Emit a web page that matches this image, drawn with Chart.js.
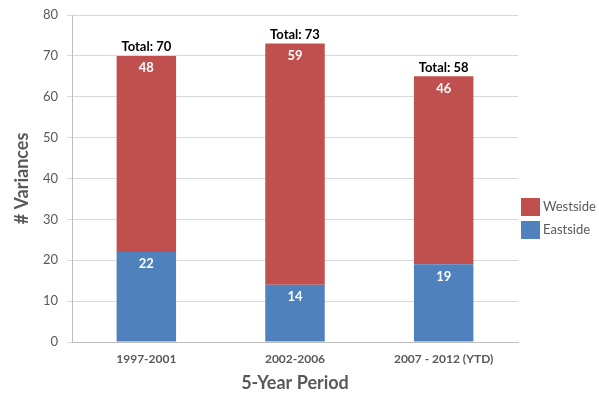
<!DOCTYPE html>
<html>
<head>
<meta charset="utf-8">
<script src="https://cdn.jsdelivr.net/npm/chart.js@4"></script>
<style>
  html, body { margin: 0; padding: 0; background: #fff; }
  #wrap { width: 599px; height: 398px; }
</style>
</head>
<body>
<div id="wrap"><canvas id="chart"></canvas></div>
<script>
var periods = ['1997-2001', '2002-2006', '2007 - 2012 (YTD)'];
var eastside = [22, 14, 19];
var westside = [48, 59, 46];
var totals = [70, 73, 58];
var yTicks = [0, 10, 20, 30, 40, 50, 60, 70, 80];

var FONT = 'Lato, "Open Sans", sans-serif';
var GREY = '#595959';

// white numbers inside each segment + "Total: n" on top
var labelsPlugin = {
  id: 'labels',
  afterDatasetsDraw: function(chart) {
    var ctx = chart.ctx;
    ctx.save();
    ctx.textAlign = 'center';
    ctx.textBaseline = 'middle';
    ctx.font = 'bold 13px ' + FONT;
    ctx.fillStyle = '#ffffff';
    chart.data.datasets.forEach(function(ds, i) {
      chart.getDatasetMeta(i).data.forEach(function(bar, j) {
        ctx.fillText(ds.data[j], bar.x, bar.y + 12);
      });
    });
    var top = chart.getDatasetMeta(chart.data.datasets.length - 1).data;
    ctx.fillStyle = '#000000';
    top.forEach(function(bar, j) {
      ctx.fillText('Total: ' + totals[j], bar.x, bar.y - 9);
    });
    ctx.restore();
  }
};

// legend on the right, Westside above Eastside
var legendPlugin = {
  id: 'sideLegend',
  afterDraw: function(chart) {
    var ctx = chart.ctx;
    var items = chart.data.datasets.slice().reverse();
    ctx.save();
    ctx.font = '13px ' + FONT;
    ctx.textBaseline = 'middle';
    ctx.textAlign = 'left';
    items.forEach(function(ds, k) {
      var y = 198 + k * 23;
      ctx.fillStyle = ds.backgroundColor;
      ctx.fillRect(521, y, 19, 18);
      ctx.fillStyle = GREY;
      ctx.fillText(ds.label, 543, y + 9);
    });
    ctx.restore();
  }
};

new Chart(document.getElementById('chart'), {
  type: 'bar',
  data: {
    labels: periods,
    datasets: [{
      label: 'Eastside',
      data: eastside,
      backgroundColor: '#4f81bd'
    }, {
      label: 'Westside',
      data: westside,
      backgroundColor: '#c0504d'
    }]
  },
  options: {
    responsive: true,
    maintainAspectRatio: false,
    animation: false,
    categoryPercentage: 1,
    barPercentage: 0.4,
    layout: { padding: { top: 15, right: 81, left: 0, bottom: 0 } },
    plugins: {
      legend: { display: false },
      tooltip: { enabled: false }
    },
    scales: {
      x: {
        stacked: true,
        grid: { display: false, drawTicks: false },
        border: { color: '#bfbfbf' },
        ticks: {
          padding: 10,
          color: GREY,
          font: { family: FONT, size: 12, weight: 'bold' }
        },
        title: {
          display: true,
          text: '5-Year Period',
          color: GREY,
          font: { family: FONT, size: 18, weight: 'bold' },
          padding: { top: 0, bottom: 4 }
        },
        afterFit: function(scale) {
          scale.height = 56;
          scale.paddingLeft = 0;
          scale.paddingRight = 0;
        }
      },
      y: {
        stacked: true,
        min: 0,
        max: 80,
        afterBuildTicks: function(scale) {
          scale.ticks = yTicks.map(function(v) { return { value: v }; });
        },
        grid: { color: '#d9d9d9', tickLength: 5 },
        border: { color: '#bfbfbf' },
        ticks: {
          padding: 9,
          color: GREY,
          font: { family: FONT, size: 13 }
        },
        title: {
          display: true,
          text: '# Variances',
          color: GREY,
          font: { family: FONT, size: 18, weight: 'bold' },
          padding: { top: 11, bottom: 0 }
        },
        afterFit: function(scale) {
          scale.width = 72;
          scale.paddingTop = 0;
          scale.paddingBottom = 0;
        }
      }
    }
  },
  plugins: [labelsPlugin, legendPlugin]
});
</script>
</body>
</html>
